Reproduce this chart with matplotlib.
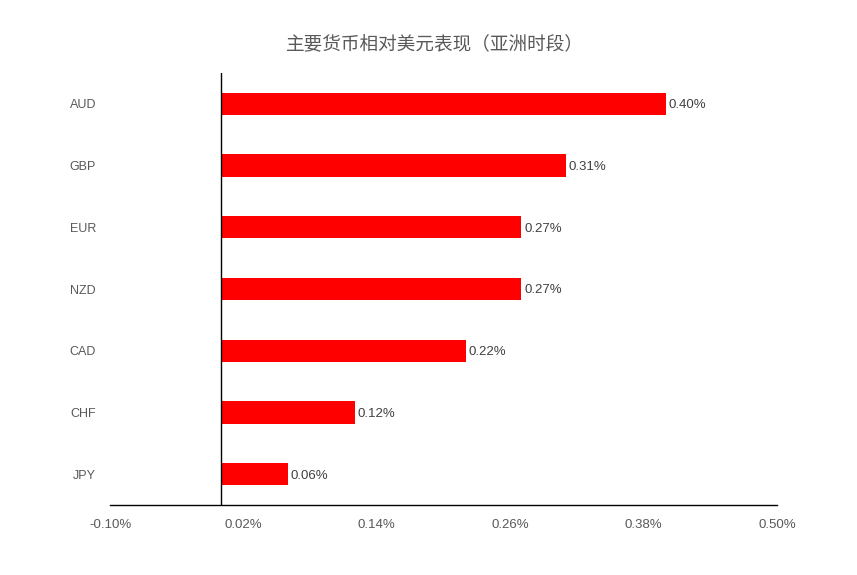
import matplotlib.pyplot as plt
from matplotlib.ticker import FixedLocator, FuncFormatter

plt.rcParams['font.family'] = ['Noto Sans CJK SC', 'DejaVu Sans']

currencies = ['AUD', 'GBP', 'EUR', 'NZD', 'CAD', 'CHF', 'JPY']
changes = [0.40, 0.31, 0.27, 0.27, 0.22, 0.12, 0.06]
x_ticks = [-0.10, 0.02, 0.14, 0.26, 0.38, 0.50]
title = '主要货币相对美元表现（亚洲时段）'

fig = plt.figure(figsize=(8.57, 5.75), dpi=100)
ax = fig.add_axes([110 / 857, 70 / 575, 667 / 857, 432 / 575])

ypos = list(range(len(currencies)))[::-1]
ax.barh(ypos, changes, height=0.36, color='#ff0000', zorder=2)

for y, v in zip(ypos, changes):
    ax.annotate(f'{v:.2f}%', (v, y), xytext=(2, -1), textcoords='offset points',
                va='center', ha='left', fontsize=9.5, color='#404040',
                family=['Liberation Sans', 'DejaVu Sans'])

ax.set_xlim(-0.10, 0.50)
ax.set_ylim(-0.5, len(currencies) - 0.5)
ax.xaxis.set_major_locator(FixedLocator(x_ticks))
ax.xaxis.set_major_formatter(FuncFormatter(lambda x, p: f'{x:.2f}%'))
ax.set_yticks(ypos)
ax.set_yticklabels(currencies)

for lab in ax.get_xticklabels() + ax.get_yticklabels():
    lab.set_family(['Liberation Sans', 'DejaVu Sans'])
    lab.set_color('#595959')
ax.tick_params(axis='x', length=0, labelsize=9.5, pad=10)
ax.tick_params(axis='y', length=0, labelsize=9, pad=10)

for s in ['top', 'right', 'left']:
    ax.spines[s].set_visible(False)
ax.spines['bottom'].set_color('#000000')
ax.spines['bottom'].set_linewidth(1)
ax.axvline(0, color='#000000', linewidth=1, zorder=3)

fig.suptitle(title, x=435 / 857, y=1 - 45 / 575, va='center',
             fontsize=13.4, color='#595959')

fig.savefig('out.png', dpi=100)
